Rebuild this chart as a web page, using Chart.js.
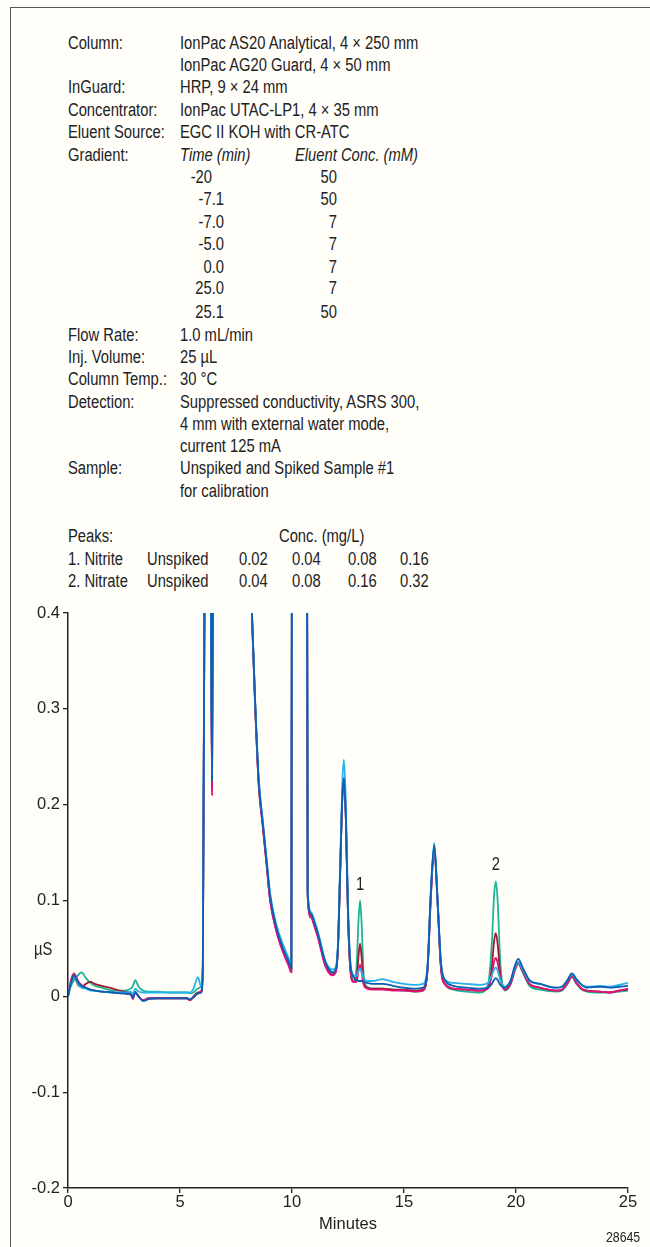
<!DOCTYPE html>
<html>
<head>
<meta charset="utf-8">
<script src="https://cdn.jsdelivr.net/npm/chart.js@4.4.1/dist/chart.umd.min.js"></script>
<style>
  html, body { margin: 0; padding: 0; background: #fffef9; }
  body {
    width: 650px; height: 1247px; position: relative; overflow: hidden;
    font-family: 'Liberation Sans', Arial, sans-serif;
    font-size: 18px; color: #222;
  }
  .frame { position: absolute; left: 10px; top: 7px; width: 700px; height: 1300px;
    border-left: 1.5px solid #555; border-top: 1.5px solid #555; }
  /* no condensed face installed, so squeeze the regular one */
  .t { position: absolute; line-height: 22px; white-space: nowrap;
    transform: scaleX(0.82); transform-origin: 0 0; }
  .i { font-style: italic; }
  .r { text-align: right; width: 60px; transform-origin: 100% 0; }
  #chartWrap { position: absolute; left: 0; top: 600px; width: 650px; height: 647px; }
</style>
</head>
<body>
<div class="frame"></div>

<div class="t" style="left:68px;top:32px">Column:</div>
<div class="t" style="left:180px;top:32px">IonPac AS20 Analytical, 4 × 250 mm</div>
<div class="t" style="left:180px;top:54px">IonPac AG20 Guard, 4 × 50 mm</div>
<div class="t" style="left:68px;top:76px">InGuard:</div>
<div class="t" style="left:180px;top:76px">HRP, 9 × 24 mm</div>
<div class="t" style="left:68px;top:99px">Concentrator:</div>
<div class="t" style="left:180px;top:99px">IonPac UTAC-LP1, 4 × 35 mm</div>
<div class="t" style="left:68px;top:121px">Eluent Source:</div>
<div class="t" style="left:180px;top:121px">EGC II KOH with CR-ATC</div>
<div class="t" style="left:68px;top:144px">Gradient:</div>
<div class="t i" style="left:180px;top:144px">Time (min)</div>
<div class="t i" style="left:295px;top:144px">Eluent Conc. (mM)</div>

<div class="t r" style="left:152px;top:166px">-20</div>
<div class="t r" style="left:277px;top:166px">50</div>
<div class="t r" style="left:164px;top:188px">-7.1</div>
<div class="t r" style="left:277px;top:188px">50</div>
<div class="t r" style="left:164px;top:211px">-7.0</div>
<div class="t r" style="left:277px;top:211px">7</div>
<div class="t r" style="left:164px;top:233px">-5.0</div>
<div class="t r" style="left:277px;top:233px">7</div>
<div class="t r" style="left:164px;top:256px">0.0</div>
<div class="t r" style="left:277px;top:256px">7</div>
<div class="t r" style="left:164px;top:277px">25.0</div>
<div class="t r" style="left:277px;top:277px">7</div>
<div class="t r" style="left:164px;top:301px">25.1</div>
<div class="t r" style="left:277px;top:301px">50</div>

<div class="t" style="left:68px;top:324px">Flow Rate:</div>
<div class="t" style="left:180px;top:324px">1.0 mL/min</div>
<div class="t" style="left:68px;top:346px">Inj. Volume:</div>
<div class="t" style="left:180px;top:346px">25 µL</div>
<div class="t" style="left:68px;top:368px">Column Temp.:</div>
<div class="t" style="left:180px;top:368px">30 °C</div>
<div class="t" style="left:68px;top:391px">Detection:</div>
<div class="t" style="left:180px;top:391px">Suppressed conductivity, ASRS 300,</div>
<div class="t" style="left:180px;top:413px">4 mm with external water mode,</div>
<div class="t" style="left:180px;top:435px">current 125 mA</div>
<div class="t" style="left:68px;top:457px">Sample:</div>
<div class="t" style="left:180px;top:457px">Unspiked and Spiked Sample #1</div>
<div class="t" style="left:180px;top:480px">for calibration</div>

<div class="t" style="left:68px;top:525px">Peaks:</div>
<div class="t" style="left:279px;top:525px">Conc. (mg/L)</div>
<div class="t" style="left:68px;top:548px">1. Nitrite</div>
<div class="t" style="left:147px;top:548px">Unspiked</div>
<div class="t" style="left:239px;top:548px">0.02</div>
<div class="t" style="left:292px;top:548px">0.04</div>
<div class="t" style="left:348px;top:548px">0.08</div>
<div class="t" style="left:400px;top:548px">0.16</div>
<div class="t" style="left:68px;top:570px">2. Nitrate</div>
<div class="t" style="left:147px;top:570px">Unspiked</div>
<div class="t" style="left:239px;top:570px">0.04</div>
<div class="t" style="left:292px;top:570px">0.08</div>
<div class="t" style="left:348px;top:570px">0.16</div>
<div class="t" style="left:400px;top:570px">0.32</div>

<div id="chartWrap"><canvas id="chrom" width="650" height="647"></canvas></div>
<div class="t" style="left:34px;top:938px">µS</div>
<div class="t" style="left:606px;top:1226px;font-size:15px">28645</div>

<script>
(function () {
  // retention time axis shared by all traces (minutes)
  const minutes = [
    0, 0.12, 0.27, 0.45, 0.6, 0.8, 1.0, 1.2, 1.5, 2.0,
    2.5, 2.8, 2.9, 3.0, 3.15, 3.35, 3.6, 4.0, 4.5, 5.0,
    5.3, 5.45, 5.6, 5.8, 5.95, 6.02, 6.14, 6.3, 6.38, 6.43,
    6.49, 6.6, 7.5, 8.0, 8.21, 8.35, 8.51, 8.7, 8.87, 9.02,
    9.3, 9.6, 9.85, 9.97, 10.02, 10.3, 10.64, 10.7, 10.85, 11.0,
    11.15, 11.3, 11.45, 11.6, 11.8, 11.95, 12.05, 12.15, 12.25, 12.32,
    12.4, 12.5, 12.6, 12.75, 12.88, 12.97, 13.04, 13.11, 13.2, 13.35,
    13.6, 14.05, 14.5, 15.0, 15.5, 15.85, 16.05, 16.2, 16.35, 16.5,
    16.65, 16.85, 17.2, 17.8, 18.4, 18.75, 18.92, 19.02, 19.1, 19.18,
    19.3, 19.5, 19.75, 19.95, 20.1, 20.3, 20.6, 21.07, 21.8, 22.05,
    22.3, 22.49, 22.7, 22.93, 23.16, 23.75, 24.2, 24.6, 25.0
  ];

  // conductivity (µS) per trace
  const unspiked = [
    0.0, 0.013, 0.022, 0.015, 0.011, 0.009, 0.007, 0.006, 0.005, 0.004,
    0.003, 0.002, -0.002, 0.004, 0.0, -0.005, -0.003, -0.002, -0.002, -0.002,
    -0.002, -0.003, -0.001, 0.003, 0.004, 0.03, 0.7, 0.9, 0.45, 0.225,
    0.6, 1.2, 1.4, 0.55, 0.4, 0.31, 0.226, 0.18, 0.14, 0.105,
    0.072, 0.05, 0.036, 0.029, 0.9, 1.3, 0.9, 0.108, 0.086, 0.077,
    0.066, 0.052, 0.038, 0.03, 0.025, 0.028, 0.05, 0.13, 0.21, 0.228,
    0.19, 0.09, 0.035, 0.02, 0.017, 0.016, 0.016, 0.016, 0.015, 0.014,
    0.013, 0.013, 0.011, 0.009, 0.008, 0.009, 0.03, 0.11, 0.158, 0.1,
    0.035, 0.016, 0.011, 0.009, 0.008, 0.009, 0.013, 0.017, 0.019, 0.017,
    0.012, 0.009, 0.016, 0.032, 0.039, 0.03, 0.017, 0.013, 0.009, 0.01,
    0.017, 0.024, 0.018, 0.012, 0.009, 0.01, 0.009, 0.01, 0.011
  ];
  const spike1 = [
    0.0, 0.012, 0.02, 0.013, 0.009, 0.008, 0.006, 0.006, 0.005, 0.004,
    0.004, 0.005, 0.002, 0.008, 0.005, 0.004, 0.004, 0.004, 0.004, 0.004,
    0.004, 0.004, 0.008, 0.02, 0.01, 0.035, 0.7, 0.9, 0.45, 0.23,
    0.6, 1.2, 1.4, 0.55, 0.402, 0.312, 0.229, 0.183, 0.143, 0.108,
    0.075, 0.054, 0.04, 0.033, 0.9, 1.3, 0.9, 0.11, 0.088, 0.079,
    0.068, 0.054, 0.04, 0.032, 0.028, 0.03, 0.055, 0.14, 0.225, 0.247,
    0.205, 0.095, 0.038, 0.022, 0.021, 0.027, 0.029, 0.025, 0.019, 0.016,
    0.016, 0.018, 0.015, 0.013, 0.012, 0.013, 0.032, 0.11, 0.16, 0.1,
    0.036, 0.017, 0.014, 0.013, 0.012, 0.014, 0.022, 0.028, 0.03, 0.027,
    0.017, 0.01, 0.016, 0.03, 0.036, 0.028, 0.016, 0.013, 0.009, 0.01,
    0.017, 0.023, 0.017, 0.012, 0.01, 0.011, 0.01, 0.012, 0.014
  ];
  const spike2 = [
    0.0, 0.016, 0.024, 0.016, 0.012, 0.009, 0.007, 0.006, 0.005, 0.004,
    0.003, 0.002, -0.003, 0.004, 0.0, -0.004, -0.002, -0.002, -0.002, -0.002,
    -0.002, -0.004, -0.001, 0.003, 0.006, 0.03, 0.7, 0.9, 0.42, 0.21,
    0.6, 1.2, 1.4, 0.55, 0.398, 0.306, 0.222, 0.176, 0.136, 0.1,
    0.068, 0.046, 0.032, 0.025, 0.9, 1.3, 0.9, 0.104, 0.082, 0.073,
    0.062, 0.048, 0.034, 0.026, 0.022, 0.025, 0.05, 0.13, 0.21, 0.226,
    0.19, 0.085, 0.03, 0.015, 0.015, 0.027, 0.033, 0.025, 0.012, 0.008,
    0.007, 0.007, 0.006, 0.006, 0.005, 0.006, 0.028, 0.105, 0.155, 0.098,
    0.03, 0.012, 0.008, 0.007, 0.006, 0.008, 0.022, 0.036, 0.04, 0.035,
    0.018, 0.007, 0.013, 0.028, 0.035, 0.026, 0.013, 0.009, 0.006, 0.007,
    0.014, 0.021, 0.014, 0.008, 0.006, 0.005, 0.004, 0.006, 0.008
  ];
  const spike3 = [
    0.0, 0.012, 0.02, 0.012, 0.01, 0.013, 0.015, 0.013, 0.011, 0.008,
    0.005, 0.004, 0.0, 0.005, 0.0, -0.004, -0.002, -0.002, -0.002, -0.002,
    -0.002, -0.004, 0.0, 0.004, 0.005, 0.03, 0.7, 0.9, 0.43, 0.215,
    0.6, 1.2, 1.4, 0.55, 0.399, 0.307, 0.223, 0.177, 0.137, 0.101,
    0.069, 0.047, 0.033, 0.026, 0.9, 1.3, 0.9, 0.105, 0.083, 0.074,
    0.063, 0.049, 0.035, 0.027, 0.023, 0.026, 0.05, 0.13, 0.21, 0.226,
    0.19, 0.085, 0.03, 0.015, 0.018, 0.042, 0.055, 0.04, 0.014, 0.009,
    0.008, 0.008, 0.007, 0.007, 0.006, 0.007, 0.028, 0.105, 0.155, 0.098,
    0.03, 0.012, 0.008, 0.007, 0.006, 0.009, 0.03, 0.057, 0.066, 0.055,
    0.022, 0.007, 0.013, 0.028, 0.035, 0.026, 0.013, 0.009, 0.006, 0.007,
    0.014, 0.021, 0.014, 0.008, 0.006, 0.005, 0.004, 0.006, 0.007
  ];
  const spike4 = [
    0.0, 0.01, 0.017, 0.022, 0.025, 0.019, 0.014, 0.011, 0.009, 0.006,
    0.006, 0.008, 0.011, 0.017, 0.01, 0.006, 0.005, 0.005, 0.004, 0.004,
    0.004, 0.003, 0.004, 0.008, 0.01, 0.03, 0.7, 0.9, 0.44, 0.22,
    0.6, 1.2, 1.4, 0.55, 0.4, 0.309, 0.225, 0.179, 0.139, 0.103,
    0.071, 0.049, 0.035, 0.028, 0.9, 1.3, 0.9, 0.107, 0.085, 0.076,
    0.065, 0.051, 0.037, 0.029, 0.025, 0.028, 0.05, 0.13, 0.21, 0.227,
    0.19, 0.085, 0.03, 0.016, 0.03, 0.08, 0.1, 0.075, 0.022, 0.01,
    0.008, 0.008, 0.007, 0.006, 0.005, 0.006, 0.028, 0.105, 0.156, 0.098,
    0.03, 0.012, 0.007, 0.005, 0.004, 0.012, 0.055, 0.105, 0.12, 0.1,
    0.035, 0.006, 0.012, 0.027, 0.034, 0.025, 0.011, 0.007, 0.005, 0.006,
    0.013, 0.02, 0.013, 0.007, 0.005, 0.004, 0.004, 0.005, 0.006
  ];

  const yTicks = [-0.2, -0.1, 0, 0.1, 0.2, 0.3, 0.4];
  const yTickLabels = ['-0.2', '-0.1', '0', '0.1', '0.2', '0.3', '0.4'];
  const xTicks = [0, 5, 10, 15, 20, 25];

  const peakNames = ['1', '2'];
  const peakTimes = [13.04, 19.1];
  const peakLabelLevels = [0.116, 0.137];

  const FONT = "'Liberation Sans', Arial, sans-serif";
  const INK = '#222';

  function toPoints(values) {
    return values.map((v, i) => ({ x: minutes[i], y: v }));
  }

  function trace(values, color) {
    return {
      data: toPoints(values),
      borderColor: color,
      borderWidth: 1.8,
      pointRadius: 0,
      cubicInterpolationMode: 'monotone',
      fill: false,
    };
  }

  // peak numbers, squeezed like the header text
  const peakLabels = {
    id: 'peakLabels',
    afterDatasetsDraw(chart) {
      const { ctx, scales: { x, y } } = chart;
      ctx.font = `18px ${FONT}`;
      ctx.fillStyle = INK;
      ctx.textAlign = 'center';
      ctx.textBaseline = 'middle';
      peakNames.forEach((name, i) => {
        ctx.save();
        ctx.translate(x.getPixelForValue(peakTimes[i]), y.getPixelForValue(peakLabelLevels[i]));
        ctx.scale(0.82, 1);
        ctx.fillText(name, 0, 0);
        ctx.restore();
      });
    },
  };

  const axisGrid = { drawOnChartArea: false, tickLength: 5, color: INK, lineWidth: 1.3 };
  const axisBorder = { color: INK, width: 1.5 };
  const tickFont = { family: FONT, size: 16.5 };

  new Chart(document.getElementById('chrom'), {
    type: 'line',
    data: {
      datasets: [
        trace(unspiked, '#0b5fb3'),
        trace(spike1, '#27b3ea'),
        trace(spike2, '#e2137c'),
        trace(spike3, '#a0192c'),
        trace(spike4, '#1db496'),
      ],
    },
    options: {
      responsive: false,
      animation: false,
      layout: { padding: { top: 13, right: 22, left: 0, bottom: 0 } },
      plugins: { legend: { display: false }, tooltip: { enabled: false } },
      scales: {
        x: {
          type: 'linear',
          min: 0,
          max: 25,
          afterBuildTicks(scale) { scale.ticks = xTicks.map((v) => ({ value: v })); },
          afterFit(scale) { scale.height = 59; },
          ticks: { font: tickFont, color: INK, padding: 0, maxRotation: 0 },
          grid: axisGrid,
          border: axisBorder,
          title: {
            display: true,
            text: 'Minutes',
            font: tickFont,
            color: INK,
            padding: { top: 0, bottom: 13 },
          },
        },
        y: {
          min: -0.2,
          max: 0.4,
          afterBuildTicks(scale) { scale.ticks = yTicks.map((v) => ({ value: v })); },
          afterFit(scale) { scale.width = 68; },
          ticks: {
            font: tickFont,
            color: INK,
            padding: 3,
            callback(value) {
              const idx = yTicks.findIndex((t) => Math.abs(t - value) < 1e-6);
              return idx >= 0 ? yTickLabels[idx] : '';
            },
          },
          grid: axisGrid,
          border: axisBorder,
        },
      },
    },
    plugins: [peakLabels],
  });
})();
</script>
</body>
</html>
